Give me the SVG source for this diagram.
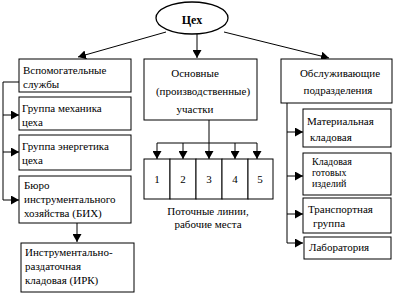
<svg xmlns="http://www.w3.org/2000/svg" width="397" height="294" viewBox="0 0 397 294">
<style>
  rect.b { fill: #fff; stroke: #000; stroke-width: 1; }
  ellipse.b { fill: #fff; stroke: #000; stroke-width: 1.3; }
  text { font-family: "Liberation Serif", "Times New Roman", serif; font-size: 11px; fill: #000; }
  text.c { text-anchor: middle; }
  text.t { font-weight: bold; font-size: 12px; }
  text.s { font-size: 10px; }
  #connectors line, #connectors polyline { stroke: #000; stroke-width: 1; fill: none; }
</style>
<defs>
  <marker id="ah" markerUnits="userSpaceOnUse" markerWidth="9" markerHeight="9" refX="8" refY="4.5" orient="auto">
    <path d="M0,0 L8,4.5 L0,9 z" fill="#000"/>
  </marker>
</defs>
<rect width="397" height="294" fill="#fff"/>
<g id="connectors">
  <line x1="166" y1="32" x2="78" y2="57" marker-end="url(#ah)"/>
  <line x1="197" y1="34" x2="197" y2="58" marker-end="url(#ah)"/>
  <line x1="224" y1="32" x2="329" y2="58" marker-end="url(#ah)"/>
  <polyline points="19,82 3,82 3,200 19,200" marker-end="url(#ah)"/>
  <line x1="3" y1="115" x2="19" y2="115" marker-end="url(#ah)"/>
  <line x1="3" y1="152" x2="19" y2="152" marker-end="url(#ah)"/>
  <line x1="77" y1="223" x2="77" y2="242" marker-end="url(#ah)"/>
  <line x1="209" y1="120" x2="209" y2="143"/>
  <line x1="157" y1="143" x2="257" y2="143"/>
  <line x1="157" y1="143" x2="157" y2="159" marker-end="url(#ah)"/>
  <line x1="183" y1="143" x2="183" y2="159" marker-end="url(#ah)"/>
  <line x1="209" y1="143" x2="209" y2="159" marker-end="url(#ah)"/>
  <line x1="235" y1="143" x2="235" y2="159" marker-end="url(#ah)"/>
  <line x1="257" y1="143" x2="257" y2="159" marker-end="url(#ah)"/>
  <polyline points="287,103 287,243 303,243" marker-end="url(#ah)"/>
  <line x1="287" y1="132" x2="303" y2="132" marker-end="url(#ah)"/>
  <line x1="287" y1="176" x2="303" y2="176" marker-end="url(#ah)"/>
  <line x1="287" y1="214" x2="303" y2="214" marker-end="url(#ah)"/>
</g>
<g id="tsekh">
  <ellipse class="b" cx="192" cy="18" rx="36" ry="16"/>
  <text class="t c" x="192" y="24">Цех</text>
</g>
<g id="vspom">
  <rect class="b" x="19" y="59" width="112" height="33"/>
  <text x="23" y="74">Вспомогательные</text>
  <text x="23" y="88">службы</text>
</g>
<g id="mekh">
  <rect class="b" x="19" y="97" width="112" height="33"/>
  <text x="22" y="112">Группа механика</text>
  <text x="22" y="126">цеха</text>
</g>
<g id="energ">
  <rect class="b" x="19" y="135" width="112" height="35"/>
  <text x="22" y="150">Группа энергетика</text>
  <text x="22" y="164">цеха</text>
</g>
<g id="bikh">
  <rect class="b" x="19" y="176" width="112" height="47"/>
  <text x="24" y="189">Бюро</text>
  <text x="24" y="203">инструментального</text>
  <text x="24" y="217">хозяйства  (БИХ)</text>
</g>
<g id="irk">
  <rect class="b" x="21" y="243" width="113" height="49"/>
  <text x="25" y="256">Инструментально-</text>
  <text x="25" y="270">раздаточная</text>
  <text x="25" y="284">кладовая (ИРК)</text>
</g>
<g id="osnov">
  <rect class="b" x="144" y="59" width="113" height="61"/>
  <text class="c" x="195" y="77">Основные</text>
  <text class="c" x="203" y="95">(производственные)</text>
  <text class="c" x="195" y="113">участки</text>
</g>
<g id="cells">
  <rect class="b" x="144" y="159" width="26" height="40"/>
  <rect class="b" x="170" y="159" width="26" height="40"/>
  <rect class="b" x="196" y="159" width="26" height="40"/>
  <rect class="b" x="222" y="159" width="26" height="40"/>
  <rect class="b" x="248" y="159" width="25" height="40"/>
  <text class="c" x="157" y="183">1</text>
  <text class="c" x="183" y="183">2</text>
  <text class="c" x="209" y="183">3</text>
  <text class="c" x="235" y="183">4</text>
  <text class="c" x="260" y="183">5</text>
</g>
<g id="potok">
  <text class="c" x="208" y="215">Поточные  линии,</text>
  <text class="c" x="208" y="228">рабочие  места</text>
</g>
<g id="obsl">
  <rect class="b" x="281" y="59" width="111" height="44"/>
  <text class="c" x="340" y="77">Обслуживающие</text>
  <text class="c" x="338" y="94">подразделения</text>
</g>
<g id="mater">
  <rect class="b" x="303" y="109" width="88" height="38"/>
  <text x="307" y="125">Материальная</text>
  <text x="310" y="141">кладовая</text>
</g>
<g id="gotov">
  <rect class="b" x="303" y="153" width="88" height="42"/>
  <text class="s" x="312" y="165">Кладовая</text>
  <text class="s" x="312" y="176">готовых</text>
  <text class="s" x="312" y="187">изделий</text>
</g>
<g id="transp">
  <rect class="b" x="303" y="198" width="88" height="35"/>
  <text x="308" y="213">Транспортная</text>
  <text x="313" y="227">группа</text>
</g>
<g id="lab">
  <rect class="b" x="304" y="237" width="87" height="22"/>
  <text x="309" y="251">Лаборатория</text>
</g>
</svg>
